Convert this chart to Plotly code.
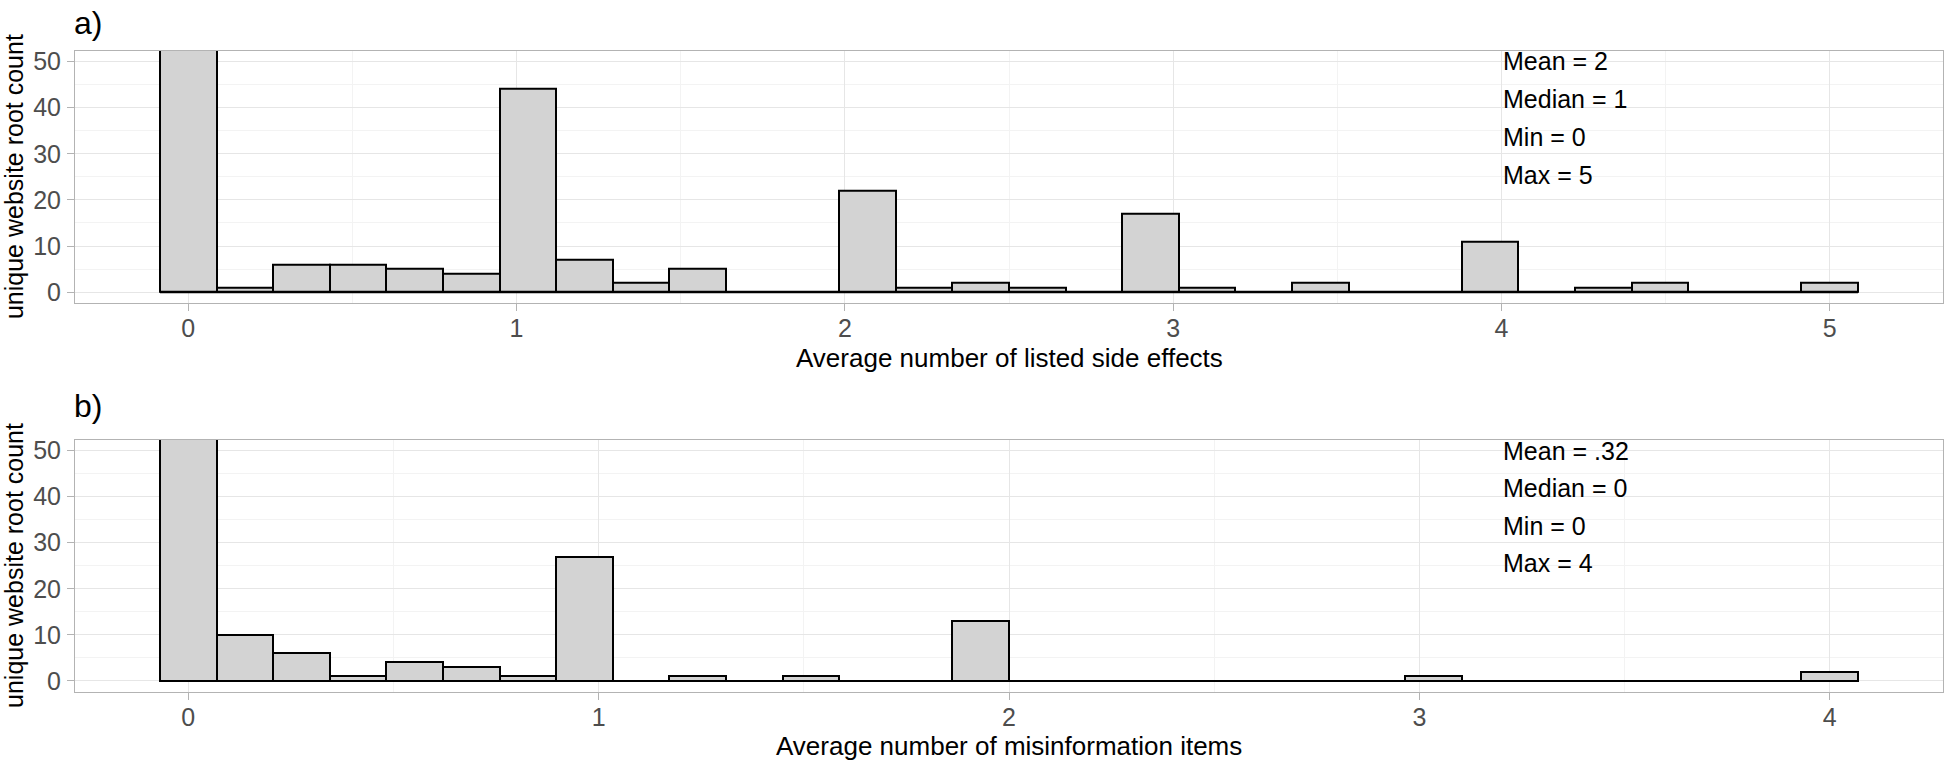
import plotly.graph_objects as go

# ---------------- data ----------------
N_BINS = 30
side_effects_min, side_effects_max = 0, 5
side_effect_counts = [70, 1, 6, 6, 5, 4, 44, 7, 2, 5, 0, 0, 22, 1, 2, 1, 0, 17, 1, 0,
                      2, 0, 0, 11, 0, 1, 2, 0, 0, 2]
misinfo_min, misinfo_max = 0, 4
misinfo_counts = [160, 10, 6, 1, 4, 3, 1, 27, 0, 1, 0, 1, 0, 0, 13, 0, 0, 0, 0, 0,
                  0, 0, 1, 0, 0, 0, 0, 0, 0, 2]
stats_a = ["Mean = 2", "Median = 1", "Min = 0", "Max = 5"]
stats_b = ["Mean = .32", "Median = 0", "Min = 0", "Max = 4"]
x_ticks_a = [0, 1, 2, 3, 4, 5]
x_ticks_b = [0, 1, 2, 3, 4]
y_ticks = [0, 10, 20, 30, 40, 50]
xtitle_a = "Average number of listed side effects"
xtitle_b = "Average number of misinformation items"
ytitle = "unique website root count"
panel_labels = ["a)", "b)"]

# ---------------- style ----------------
W, H = 1946, 766
FONT = "Liberation Sans, Arial, sans-serif"
FILL = "#D3D3D3"
BORDER = "#B3B3B3"
GRID_MAJ = "#E6E6E6"
GRID_MIN = "#F3F3F3"
TICKCOL = "#4D4D4D"
STAT_Y = [50, 41.8, 33.6, 25.5]
Y_RANGE = [-2.4, 52.3]

px_left, px_right = 75, 1943
panels = [
    dict(top=47.3, bottom=302.0, label_y=19.5),
    dict(top=440.0, bottom=694.3, label_y=406.0),
]


def bins(vmin, vmax):
    bw = (vmax - vmin) / (N_BINS - 1)
    centers = [vmin + k * bw for k in range(N_BINS)]
    lo, hi = centers[0] - bw / 2, centers[-1] + bw / 2
    pad = 0.05 * (hi - lo)
    return centers, bw, lo, hi, [lo - pad, hi + pad]


fig = go.Figure()
datasets = [
    (side_effect_counts, side_effects_min, side_effects_max, stats_a, x_ticks_a, xtitle_a),
    (misinfo_counts, misinfo_min, misinfo_max, stats_b, x_ticks_b, xtitle_b),
]

annotations = []
for i, (counts, vmin, vmax, stats, xt, xtitle) in enumerate(datasets):
    centers, bw, lo, hi, xr = bins(vmin, vmax)
    xa = "x" if i == 0 else "x2"
    ya = "y" if i == 0 else "y2"
    fig.add_trace(go.Bar(
        x=centers, y=counts, width=[bw] * N_BINS, xaxis=xa, yaxis=ya,
        marker=dict(color=FILL, line=dict(color="black", width=2)),
        showlegend=False, hoverinfo="x+y",
    ))
    # zero-height bins drawn as baseline (as ggplot does)
    fig.add_trace(go.Scatter(
        x=[lo, hi], y=[0, 0], mode="lines", xaxis=xa, yaxis=ya,
        line=dict(color="black", width=2), showlegend=False, hoverinfo="skip",
    ))
    p = panels[i]
    y0 = 1 - p["bottom"] / H
    y1 = 1 - p["top"] / H
    axis_common = dict(
        showline=True, mirror=True, linecolor=BORDER, linewidth=1,
        ticks="outside", ticklen=7, tickcolor=BORDER, tickwidth=1,
        tickfont=dict(family=FONT, size=25, color=TICKCOL),
        showgrid=True, gridcolor=GRID_MAJ, gridwidth=1.3, zeroline=False,
    )
    xaxis = dict(axis_common, domain=[px_left / W, px_right / W], range=xr,
                 tickvals=xt, ticktext=[str(v) for v in xt], anchor=ya,
                 ticklabelstandoff=-4,
                 minor=dict(showgrid=True, gridcolor=GRID_MIN, gridwidth=1,
                            tickvals=[v + 0.5 for v in range(-1, vmax + 1)]))
    yaxis = dict(axis_common, domain=[y0, y1], range=Y_RANGE, tickvals=y_ticks,
                 anchor=xa, ticklabelstandoff=1,
                 minor=dict(showgrid=True, gridcolor=GRID_MIN, gridwidth=1,
                            tickvals=[v + 5 for v in y_ticks[:-1]]))
    if i == 0:
        fig.update_layout(xaxis=xaxis, yaxis=yaxis)
    else:
        fig.update_layout(xaxis2=xaxis, yaxis2=yaxis)

    # stats text
    for s, sy in zip(stats, STAT_Y):
        annotations.append(dict(
            x=0.8 * vmax, y=sy, xref=xa, yref=ya, text=s, showarrow=False,
            xanchor="left", yanchor="middle",
            font=dict(family=FONT, size=25, color="black"),
        ))
    # x-axis title
    annotations.append(dict(
        x=(px_left + px_right) / 2 / W, y=1 - (p["bottom"] + 55) / H,
        xref="paper", yref="paper", text=xtitle, showarrow=False,
        xanchor="center", yanchor="middle",
        font=dict(family=FONT, size=26, color="black"),
    ))
    # y-axis title
    annotations.append(dict(
        x=14 / W, y=1 - (p["top"] + p["bottom"]) / 2 / H,
        xref="paper", yref="paper", text=ytitle, showarrow=False, textangle=-90,
        xanchor="center", yanchor="middle",
        font=dict(family=FONT, size=25, color="black"),
    ))
    # panel label
    annotations.append(dict(
        x=72 / W, y=1 - p["label_y"] / H,
        xref="paper", yref="paper", text=panel_labels[i], showarrow=False,
        xanchor="left", yanchor="middle",
        font=dict(family=FONT, size=32, color="black"),
    ))

fig.update_layout(
    width=W, height=H, margin=dict(l=0, r=0, t=0, b=0),
    paper_bgcolor="white", plot_bgcolor="white",
    bargap=0, annotations=annotations,
)

fig.write_html("out.html", config={"displayModeBar": False},
               post_script="document.body.style.margin='0px';")
